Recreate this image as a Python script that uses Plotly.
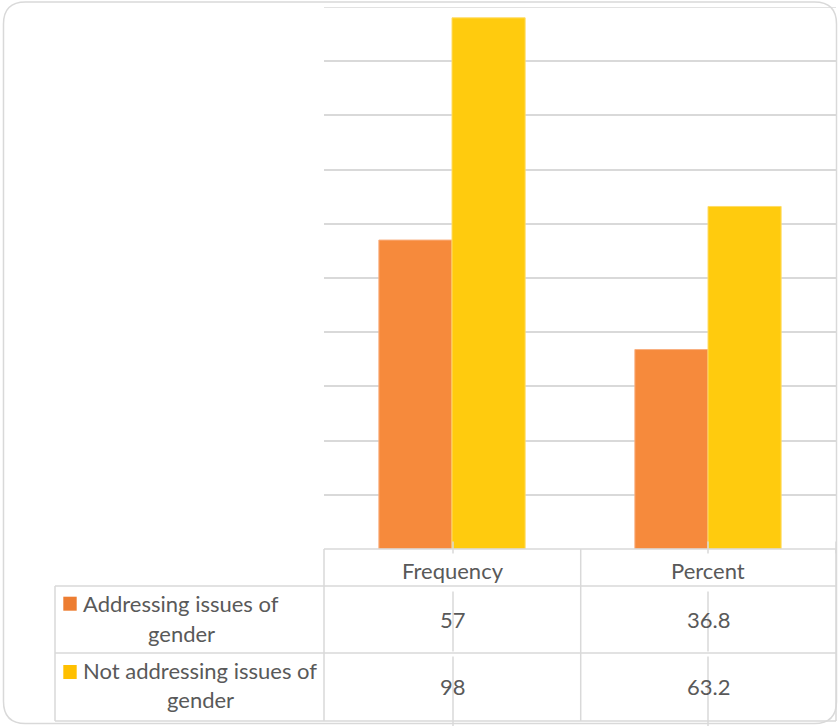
import plotly.graph_objects as go

categories = ["Frequency", "Percent"]
series_names = ["Addressing issues of gender", "Not addressing issues of gender"]
addressing = [57, 36.8]
not_addressing = [98, 63.2]
value_labels = [["57", "36.8"], ["98", "63.2"]]
row_label_lines = [["Addressing issues of", "gender"], ["Not addressing issues of", "gender"]]

bar_colors = ["#F68A3C", "#FFCB0E"]
bar_edges = ["#F9B080", "#FFDC66"]
swatch_colors = ["#ED7D31", "#FFC000"]

W, H = 840, 726
L, R, T, B = 324, 4, 7, 177
PW = W - L - R
PH = H - T - B
Y0 = H - B  # pixel y of plot bottom
FS = 22


def xp(px):
    return (px - L) / PW


def yp(py):
    return (Y0 - py) / PH


fig = go.Figure()
for name, vals, c, e in zip(series_names, [addressing, not_addressing], bar_colors, bar_edges):
    fig.add_trace(go.Bar(
        x=categories, y=vals, name=name,
        marker=dict(color=c, line=dict(color=e, width=1)),
        hoverinfo="x+y+name",
    ))

grid = "#D9D9D9"
txt = "#595959"
font = "Lato, 'Open Sans', sans-serif"
shapes = []
annotations = []


def hline(x0, x1, y, color=grid, w=1.5):
    shapes.append(dict(type="line", xref="paper", yref="paper",
                       x0=xp(x0), x1=xp(x1), y0=yp(y), y1=yp(y),
                       line=dict(color=color, width=w), layer="above"))


def vline(x, y0, y1, color=grid, w=1.5):
    shapes.append(dict(type="line", xref="paper", yref="paper",
                       x0=xp(x), x1=xp(x), y0=yp(y0), y1=yp(y1),
                       line=dict(color=color, width=w), layer="above"))


# top gridline (value 100) at the edge of the plot area
shapes.append(dict(type="line", xref="paper", yref="y", x0=0, x1=1, y0=100, y1=100,
                   line=dict(color=grid, width=1.5), layer="below"))

# outer rounded border
x0b, y0b, x1b, y1b, r = 3.5, 2, 836.5, 723.5, 22
pts = [
    ("M", x0b + r, y0b), ("L", x1b - r, y0b), ("Q", x1b, y0b, x1b, y0b + r),
    ("L", x1b, y1b - r), ("Q", x1b, y1b, x1b - r, y1b),
    ("L", x0b + r, y1b), ("Q", x0b, y1b, x0b, y1b - r),
    ("L", x0b, y0b + r), ("Q", x0b, y0b, x0b + r, y0b),
]
path = ""
for p in pts:
    if p[0] == "Q":
        path += "Q%f,%f %f,%f " % (xp(p[1]), yp(p[2]), xp(p[3]), yp(p[4]))
    else:
        path += "%s%f,%f " % (p[0], xp(p[1]), yp(p[2]))
path += "Z"
shapes.append(dict(type="path", xref="paper", yref="paper", path=path,
                   line=dict(color=grid, width=1.5), layer="above"))

# data table grid
row_tops = [549, 586, 653, 721]
hline(324, 836, 549)
for y in row_tops[1:]:
    hline(55, 836, y)
vline(324, 549, 721)
vline(580.7, 549, 721)
vline(836, 549, 721)
vline(55, 586, 721)
# category tick lines running through the table
for cx in [453, 708]:
    vline(cx, 541.5, 553.5)
    vline(cx, 591.5, 651.5)
    vline(cx, 656.5, 726)
vline(836, 541.5, 553.5)

# header labels
for cx, cat in zip([453, 708], categories):
    annotations.append(dict(xref="paper", yref="paper", x=xp(cx), y=yp(571),
                            text=cat, showarrow=False, xanchor="center", yanchor="middle",
                            font=dict(family=font, size=FS, color=txt)))

# values
row_mid = [619, 686]
for ri in range(2):
    for cx, v in zip([453, 708], value_labels[ri]):
        annotations.append(dict(xref="paper", yref="paper", x=xp(cx), y=yp(row_mid[ri]),
                                text=v, showarrow=False, xanchor="center", yanchor="middle",
                                font=dict(family=font, size=FS, color=txt)))

# row labels with legend swatches
label_centers = [181, 200]
line_mids = [[603, 633], [670, 700]]
swatch_y = [(596.7, 610.7), (665, 679)]
for ri in range(2):
    for line, ym in zip(row_label_lines[ri], line_mids[ri]):
        annotations.append(dict(xref="paper", yref="paper", x=xp(label_centers[ri]), y=yp(ym),
                                text=line, showarrow=False, xanchor="center", yanchor="middle",
                                font=dict(family=font, size=FS, color=txt)))
    shapes.append(dict(type="rect", xref="paper", yref="paper",
                       x0=xp(63.3), x1=xp(76.7), y0=yp(swatch_y[ri][1]), y1=yp(swatch_y[ri][0]),
                       fillcolor=swatch_colors[ri], line=dict(width=0), layer="above"))

fig.update_layout(
    width=W, height=H,
    margin=dict(l=L, r=R, t=T, b=B, pad=0),
    paper_bgcolor="white", plot_bgcolor="white",
    barmode="group", bargap=0.4286, bargroupgap=0,
    showlegend=False,
    shapes=shapes, annotations=annotations,
    font=dict(family=font, color=txt),
    xaxis=dict(showticklabels=False, showgrid=False, zeroline=False, showline=False,
               ticks="", range=[-0.5, 1.5]),
    yaxis=dict(range=[0, 100], dtick=10, showticklabels=False, gridcolor=grid, gridwidth=1.5,
               zeroline=False, showline=False, ticks=""),
)

fig.write_html("out.html")
